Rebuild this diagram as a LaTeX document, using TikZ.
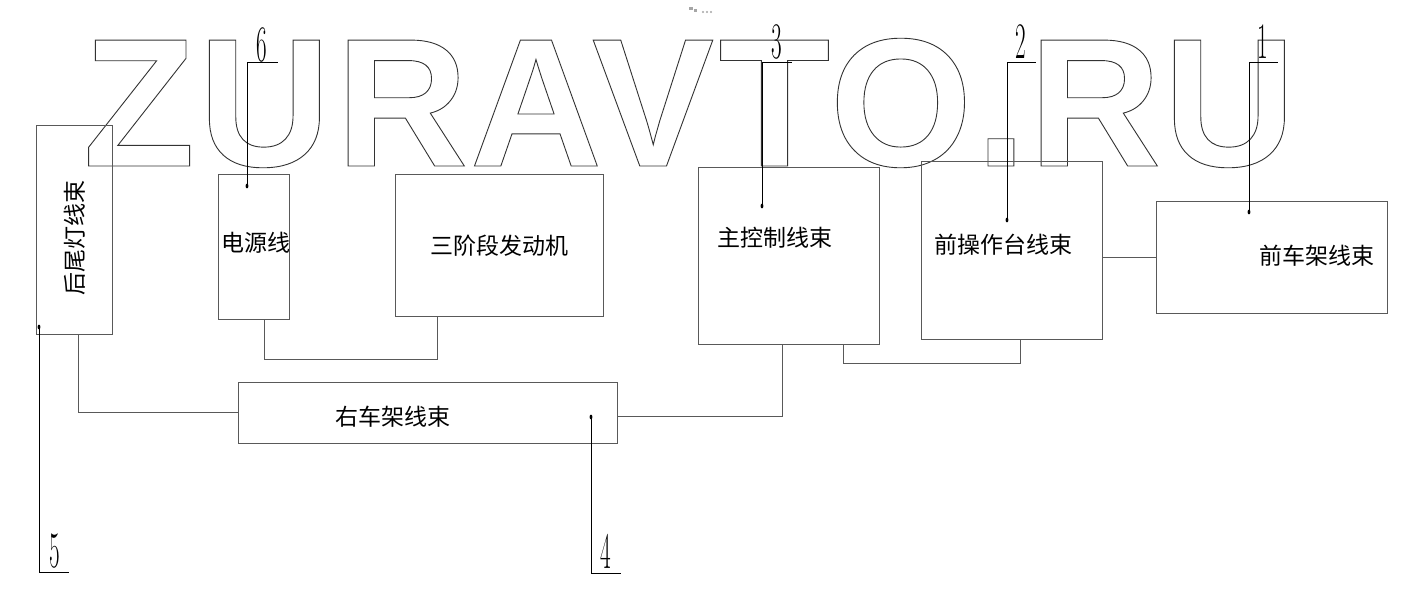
\documentclass[tikz,border=0pt]{standalone}
\usepackage{fontspec}
\newfontfamily\cjk{Noto Sans CJK SC}
\newfontfamily\wmfont{Liberation Sans}
\usetikzlibrary{fit,calc}
\newcommand\outltext[1]{\special{pdf:literal direct 1 Tr 0.45 w}#1\special{pdf:literal direct 0 Tr}}
\begin{document}
\begin{tikzpicture}[x=0.5pt,y=-0.5pt,
  box/.style={draw=black!65, line width=0.45pt, inner sep=0pt},
  wire/.style={draw=black!65, line width=0.45pt},
  lead/.style={draw=black, line width=0.4pt},
  lbl/.style={font=\cjk\fontsize{11.5}{11.5}\selectfont, inner sep=0pt},
  num/.style={font=\fontsize{25.6}{25.6}\selectfont, inner sep=0pt, xscale=0.45},
  wm/.style={font=\wmfont\bfseries\fontsize{91.5}{91.5}\selectfont, inner sep=0pt, anchor=base, text=black!80}]
\useasboundingbox (0,0) rectangle (1401,600);
\fill[white] (0,0) rectangle (1401,600);

% watermark
\node[wm] (wZ) at (139,166) {\outltext{Z}};
\node[wm] (wU) at (264.5,166) {\outltext{U}};
\node[wm] (wR) at (402,166) {\outltext{R}};
\node[wm] (wA) at (536,166) {\outltext{A}};
\node[wm] (wV) at (653,166) {\outltext{V}};
\node[wm] (wT) at (774.5,166) {\outltext{T}};
\node[wm] (wO) at (901,166) {\outltext{O}};
\node[wm] (wP) at (1001,166) {\outltext{.}};
\node[wm] (wR2) at (1095,166) {\outltext{R}};
\node[wm] (wU2) at (1229.5,166) {\outltext{U}};

% tiny icon at top
\fill[black!35] (689,7) rectangle (693,10);
\fill[black!35] (694,9) rectangle (697,12);
\foreach \xx in {703,707,711} \fill[black!35] (\xx,12) circle[radius=0.6pt];

% boxes
\node[box, fit={(36,125) (112,334)}] (tail) {};
\node[box, fit={(218,174) (289,319)}] (pw) {};
\node[box, fit={(395,174) (603,316)}] (eng) {};
\node[box, fit={(698,167) (879,344)}] (main) {};
\node[box, fit={(921,161) (1102,339)}] (fc) {};
\node[box, fit={(1156,201) (1387,313)}] (ff) {};
\node[box, fit={(238,382) (617,443)}] (rf) {};

% box texts
\node[lbl, rotate=90] (tailT) at (75,238) {后尾灯线束};
\node[lbl] (pwT) at (256,243) {电源线};
\node[lbl] (engT) at (499,246) {三阶段发动机};
\node[lbl] (mainT) at (775,238) {主控制线束};
\node[lbl] (fcT) at (1003,245) {前操作台线束};
\node[lbl] (ffT) at (1317,256) {前车架线束};
\node[lbl] (rfT) at (393,417) {右车架线束};

% connectors
\draw[wire] ($(tail.south west)+(43,0)$) |- (rf.west);
\draw[wire] ($(rf.south east)+(0,-27)$) -| ($(main.south west)+(85,0)$);
\draw[wire] ($(pw.south west)+(47,0)$) -- ++(0,40) -| ($(eng.south west)+(43,0)$);
\draw[wire] ($(main.south west)+(146,0)$) -- ++(0,19) -| ($(fc.south west)+(100,0)$);
\draw[wire] (fc.east |- ff.west) -- (ff.west);

% leaders
\coordinate (d1) at (1249,212); \coordinate (e1) at (1278,62);
\coordinate (d2) at (1007,220); \coordinate (e2) at (1036,62);
\coordinate (d3) at (762,206);  \coordinate (e3) at (792,62);
\coordinate (d6) at (247,186);  \coordinate (e6) at (278,62);
\coordinate (d5) at (39,327);   \coordinate (e5) at (69,572);
\coordinate (d4) at (591,417);  \coordinate (e4) at (621,573);
\foreach \k in {1,2,3,6,5,4}{
  \draw[lead] (d\k) |- (e\k);
  \fill (d\k) ellipse[x radius=0.7pt, y radius=1.2pt];
}
\node[num] (n1) at (1263,41.5) {1};
\node[num] (n2) at (1021,41.5) {2};
\node[num] (n3) at (777,41.5) {3};
\node[num] (n6) at (262,45) {6};
\node[num] (n5) at (55,551.5) {5};
\node[num] (n4) at (606,551.5) {4};
\end{tikzpicture}
\end{document}
